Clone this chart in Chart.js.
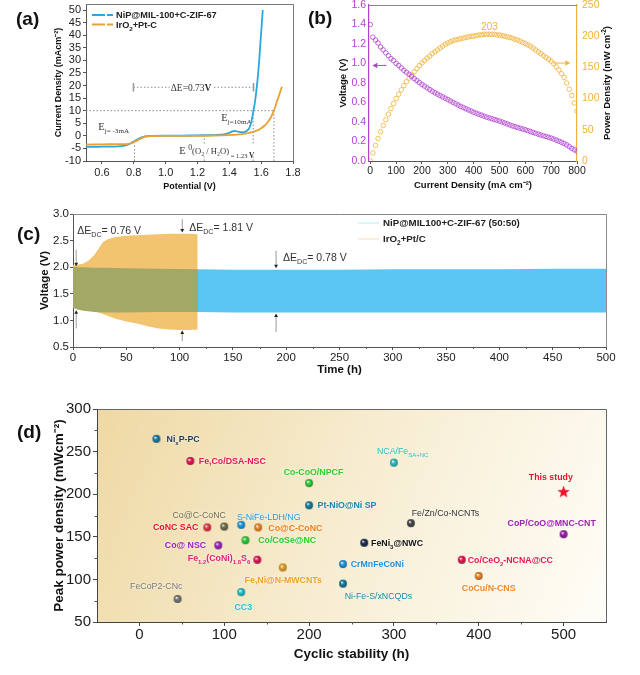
<!DOCTYPE html>
<html lang="en">
<head>
<meta charset="UTF-8">
<title>Catalyst performance panels</title>
<script src="https://cdn.jsdelivr.net/npm/chart.js@4"></script>
<style>
  body { margin: 0; background: #fff; font-family: "Liberation Sans", Arial, sans-serif; }
  #page { position: relative; width: 640px; height: 675px; overflow: hidden; background: #fff; }
  .box { position: absolute; }
  .tag { position: absolute; font-weight: bold; font-size: 19px; color: #111; }
</style>
</head>
<body>
<div id="page">
  <div class="box" style="left:0;top:0;width:300px;height:200px"><canvas id="chartA"></canvas></div>
  <div class="box" style="left:305px;top:0;width:335px;height:200px"><canvas id="chartB"></canvas></div>
  <div class="box" style="left:0;top:200px;width:640px;height:180px"><canvas id="chartC"></canvas></div>
  <div class="box" style="left:0;top:380px;width:640px;height:295px"><canvas id="chartD"></canvas></div>
  <div class="tag" style="left:16px;top:8px">(a)</div>
  <div class="tag" style="left:308px;top:7px">(b)</div>
  <div class="tag" style="left:17px;top:223px">(c)</div>
  <div class="tag" style="left:17px;top:421px">(d)</div>
</div>
<script>
// ---------- (a) polarization curves ----------
const potNi = [0.50, 0.55, 0.60, 0.65, 0.70, 0.74, 0.77, 0.79, 0.81, 0.83, 0.85, 0.87, 0.90, 1.00, 1.10, 1.20, 1.30, 1.35, 1.38, 1.40, 1.42, 1.44, 1.46, 1.48, 1.50, 1.52, 1.53, 1.54, 1.55, 1.56, 1.57, 1.58, 1.59, 1.60, 1.61];
const curNi = [-4.4, -4.4, -4.3, -4.3, -4.2, -3.9, -3.3, -2.6, -1.9, -1.2, -0.6, -0.2, 0.0, 0.1, 0.1, 0.2, 0.3, 0.5, 0.8, 1.2, 1.8, 1.9, 1.6, 1.4, 1.6, 2.6, 3.8, 6.0, 9.5, 13, 18, 24, 32, 41, 50];
const potIr = [0.50, 0.60, 0.70, 0.75, 0.78, 0.80, 0.82, 0.84, 0.86, 0.88, 0.90, 1.00, 1.10, 1.20, 1.30, 1.40, 1.45, 1.50, 1.55, 1.58, 1.60, 1.62, 1.64, 1.66, 1.68, 1.70, 1.72, 1.73];
const curIr = [-3.5, -3.4, -3.3, -3.3, -3.0, -2.5, -1.9, -1.2, -0.6, -0.3, -0.1, 0.0, 0.0, 0.0, 0.1, 0.3, 0.5, 0.9, 1.6, 2.3, 3.0, 4.0, 5.3, 7.2, 10, 13.8, 17.5, 19.5];
const potTicks = [0.6, 0.8, 1.0, 1.2, 1.4, 1.6, 1.8];
const curTicks = [-10, -5, 0, 5, 10, 15, 20, 25, 30, 35, 40, 45, 50];

// ---------- (b) discharge polarization / power density ----------
const jB = [0, 10, 20, 30, 40, 50, 60, 70, 80, 90, 100, 110, 120, 130, 140, 150, 160, 170, 180, 190, 200, 210, 220, 230, 240, 250, 260, 270, 280, 290, 300, 310, 320, 330, 340, 350, 360, 370, 380, 390, 400, 410, 420, 430, 440, 450, 460, 470, 480, 490, 500, 510, 520, 530, 540, 550, 560, 570, 580, 590, 600, 610, 620, 630, 640, 650, 660, 670, 680, 690, 700, 710, 720, 730, 740, 750, 760, 770, 780, 790, 800];
const voltB = [1.40, 1.27, 1.24, 1.21, 1.17, 1.14, 1.11, 1.08, 1.05, 1.03, 1.00, 0.98, 0.955, 0.93, 0.91, 0.89, 0.867, 0.845, 0.825, 0.805, 0.785, 0.768, 0.75, 0.733, 0.716, 0.70, 0.686, 0.672, 0.658, 0.644, 0.63, 0.616, 0.602, 0.588, 0.574, 0.56, 0.548, 0.536, 0.524, 0.512, 0.50, 0.49, 0.48, 0.47, 0.46, 0.45, 0.442, 0.434, 0.426, 0.418, 0.41, 0.40, 0.39, 0.38, 0.37, 0.36, 0.352, 0.344, 0.336, 0.328, 0.32, 0.311, 0.302, 0.293, 0.284, 0.275, 0.267, 0.259, 0.251, 0.243, 0.235, 0.225, 0.214, 0.203, 0.192, 0.18, 0.165, 0.148, 0.13, 0.115, 0.10];
const powerB = [0, 13, 25, 36, 47, 57, 66, 75, 84, 92, 100, 107, 114, 121, 127, 133, 138, 143, 148, 153, 157, 161, 165, 168, 172, 175, 178, 181, 184, 187, 189, 191, 193, 194, 195, 196, 197, 198, 199, 200, 200, 201, 202, 202, 203, 203, 203, 203, 203, 202, 202, 201, 200, 199, 198, 197, 195, 194, 192, 190, 188, 186, 184, 181, 178, 175, 172, 169, 166, 163, 160, 156, 151, 146, 140, 134, 125, 115, 105, 93, 80];
const jTicksB = [0, 100, 200, 300, 400, 500, 600, 700, 800];
const peakPower = 203;

// ---------- (c) cycling ----------
const tOrange = [0, 5, 10, 15, 20, 25, 28, 32, 36, 40, 50, 60, 70, 80, 90, 100, 110, 117];
const hiOrange = [2.04, 2.05, 2.07, 2.13, 2.23, 2.38, 2.47, 2.52, 2.55, 2.57, 2.59, 2.60, 2.61, 2.62, 2.63, 2.63, 2.63, 2.62];
const loOrange = [1.26, 1.23, 1.21, 1.19, 1.17, 1.14, 1.12, 1.09, 1.06, 1.03, 0.98, 0.94, 0.89, 0.85, 0.83, 0.82, 0.82, 0.83];
const tBlue = [0, 5, 10, 20, 30, 50, 80, 117, 150, 200, 250, 300, 350, 400, 450, 500];
const hiBlue = [2.01, 2.00, 2.00, 1.99, 1.99, 1.98, 1.97, 1.96, 1.95, 1.95, 1.95, 1.96, 1.96, 1.96, 1.97, 1.97];
const loBlue = [1.24, 1.20, 1.18, 1.16, 1.15, 1.15, 1.16, 1.16, 1.15, 1.15, 1.15, 1.15, 1.15, 1.15, 1.15, 1.15];
const gapMarks = [[3, 2.33, 2.02], [3, 0.85, 1.19], [102.5, 2.9, 2.65], [102.5, 0.61, 0.81], [190.5, 2.31, 1.98], [190.5, 0.78, 1.13]];
const gapTexts = [[4, 2.70, '0.76'], [109, 2.75, '1.81'], [197, 2.19, '0.78']];

// ---------- (d) comparison ----------
const namesD = [
  [['Ni', 0, 1], ['x', -1, 1], ['P-PC', 0, 1]],
  [['Fe,Co/DSA-NSC', 0, 1]],
  [['Co-CoO/NPCF', 0, 1]],
  [['Pt-NiO@Ni SP', 0, 1]],
  [['NCA/Fe', 0, 0], ['SA+NC', -1, 0]],
  [['Fe/Zn/Co-NCNTs', 0, 0]],
  [['CoP/CoO@MNC-CNT', 0, 1]],
  [['FeNi', 0, 1], ['3', -1, 1], ['@NWC', 0, 1]],
  [['CoNC SAC', 0, 1]],
  [['Co@C-CoNC', 0, 0]],
  [['S-NiFe-LDH/NG', 0, 0]],
  [['Co@C-CoNC', 0, 1]],
  [['Co/CoSe@NC', 0, 1]],
  [['Co@ NSC', 0, 1]],
  [['Fe', 0, 1], ['1.2', -1, 1], ['(CoNi)', 0, 1], ['1.8', -1, 1], ['S', 0, 1], ['6', -1, 1]],
  [['Fe,Ni@N-MWCNTs', 0, 1]],
  [['CrMnFeCoNi', 0, 1]],
  [['Ni-Fe-S/xNCQDs', 0, 0]],
  [['Co/CeO', 0, 1], ['2', -1, 1], ['-NCNA@CC', 0, 1]],
  [['CoCu/N-CNS', 0, 1]],
  [['FeCoP2-CNc', 0, 0]],
  [['CC3', 0, 1]]
];
const stabD = [20, 60, 200, 200, 300, 320, 500, 265, 80, 100, 120, 140, 125, 93, 139, 169, 240, 240, 380, 400, 45, 120];
const powD = [265, 239, 213, 187, 237, 166, 153, 143, 161, 162, 164, 161, 146, 140, 123, 114, 118, 95, 123, 104, 77, 85];
const nameAtX = [32, 70, 170, 210, 280, 321, 434, 273, 16, 39, 115, 152, 140, 30, 57, 124, 249, 242, 387, 380, -11, 112];
const nameAtY = [265, 239, 226, 187, 251, 178, 166, 143, 162, 176, 174, 161, 146, 140, 125, 99, 118, 81, 123, 90, 92, 68];
const dotColors = ['#1f7fa8', '#ea1a5c', '#33d13f', '#1c80a4', '#2fc3c6', '#4a4a4a', '#9a22ad', '#1e3050', '#e8394d', '#72724c', '#1f9de9', '#f08a2c', '#2bd23a', '#a324c9', '#e8185e', '#e9a52e', '#1f9be8', '#1a7fa1', '#e81a4f', '#f08a2c', '#7a7a7a', '#24c6d0'];
const nameColors = ['#1e3a5c', '#e8175a', '#2ccf2c', '#1a84a8', '#2bbec2', '#333333', '#9b22b3', '#111111', '#e8122c', '#6e6e4c', '#1e9be8', '#f07f1a', '#22d22a', '#9e1fc8', '#e0207a', '#eba52a', '#1e90e0', '#1b8aa0', '#e8174e', '#f08a2a', '#7a7a7a', '#22c4d0'];
const studyD = { x: 500, y: 203 };
const stabTicks = [0, 100, 200, 300, 400, 500];
const powTicks = [50, 100, 150, 200, 250, 300];

// ---------- helpers ----------
const FAM = '"Liberation Sans", Arial, Helvetica, sans-serif';
const SERIF = '"Liberation Serif", "Times New Roman", serif';
Chart.defaults.font.family = FAM;
Chart.defaults.color = '#1a1a1a';
Chart.defaults.animation = false;
Chart.defaults.plugins.legend.display = false;
Chart.defaults.plugins.tooltip.enabled = false;

// parts: [text, position (0 / -1 sub / 1 sup), bold, size factor]
function drawRich(ctx, x, y, parts, o) {
  const size = o.size || 10, fam = o.family || FAM;
  const seg = parts.map(p => {
    const t = p[0], pos = p[1] || 0, bold = p[2] !== undefined ? p[2] : o.bold;
    const s = size * (p[3] || (pos ? 0.68 : 1));
    const font = (bold ? 'bold ' : '') + s + 'px ' + fam;
    ctx.font = font;
    return { t, pos, font, w: ctx.measureText(t).width };
  });
  const total = seg.reduce((a, b) => a + b.w, 0);
  let cx = o.align === 'center' ? x - total / 2 : (o.align === 'right' ? x - total : x);
  ctx.save();
  if (o.bg) {
    ctx.fillStyle = o.bg;
    ctx.fillRect(cx - 1, y - size * 0.55, total + 2, size * 1.1);
  }
  if (o.halo) { ctx.shadowColor = 'rgba(255,255,255,0.95)'; ctx.shadowBlur = 3; }
  ctx.fillStyle = o.color || '#222';
  ctx.textBaseline = 'alphabetic';
  for (const s of seg) {
    ctx.font = s.font;
    const dy = s.pos < 0 ? size * 0.3 : (s.pos > 0 ? -size * 0.42 : 0);
    ctx.fillText(s.t, cx, y + size * 0.36 + dy);
    cx += s.w;
  }
  ctx.restore();
  return total;
}

function arrowLine(ctx, x1, y1, x2, y2, color, headColor, head) {
  const a = Math.atan2(y2 - y1, x2 - x1);
  ctx.save();
  ctx.strokeStyle = color; ctx.lineWidth = 1; ctx.setLineDash([]);
  ctx.beginPath(); ctx.moveTo(x1, y1); ctx.lineTo(x2 - Math.cos(a) * head, y2 - Math.sin(a) * head); ctx.stroke();
  ctx.fillStyle = headColor;
  ctx.beginPath();
  ctx.moveTo(x2, y2);
  ctx.lineTo(x2 - Math.cos(a) * head - Math.sin(a) * head * 0.55, y2 - Math.sin(a) * head + Math.cos(a) * head * 0.55);
  ctx.lineTo(x2 - Math.cos(a) * head + Math.sin(a) * head * 0.55, y2 - Math.sin(a) * head - Math.cos(a) * head * 0.55);
  ctx.closePath(); ctx.fill();
  ctx.restore();
}

function frame(color) {
  return {
    id: 'frame',
    afterDraw(chart) {
      const { ctx, chartArea: a } = chart;
      ctx.save();
      ctx.strokeStyle = color; ctx.lineWidth = 1;
      ctx.beginPath();
      ctx.moveTo(a.left, a.top + 0.5); ctx.lineTo(a.right + 0.5, a.top + 0.5); ctx.lineTo(a.right + 0.5, a.bottom);
      ctx.stroke();
      ctx.restore();
    }
  };
}

function minorTicks(axisId, values, len) {
  return {
    id: 'minor_' + axisId,
    afterDraw(chart) {
      const { ctx, chartArea: a } = chart, s = chart.scales[axisId];
      ctx.save(); ctx.strokeStyle = '#555'; ctx.lineWidth = 1;
      ctx.beginPath();
      values.forEach(v => {
        const p = Math.round(s.getPixelForValue(v)) + 0.5;
        if (s.isHorizontal()) { ctx.moveTo(p, a.bottom); ctx.lineTo(p, a.bottom + len); }
        else { ctx.moveTo(a.left, p); ctx.lineTo(a.left - len, p); }
      });
      ctx.stroke(); ctx.restore();
    }
  };
}

const fixTicks = vals => s => { s.ticks = vals.map(v => ({ value: v })); };
const fixW = w => s => { s.width = w; s.paddingTop = s.paddingBottom = 0; };
const fixH = h => s => { s.height = h; s.paddingLeft = s.paddingRight = 0; };
const pts = (xs, ys) => xs.map((v, i) => ({ x: v, y: ys[i] }));

// ---------- chart (a) ----------
const BLUE_A = '#2aa7e0', ORANGE_A = '#e9a232';
const annotA = {
  id: 'annotA',
  beforeDatasetsDraw(chart) {
    const { ctx, scales: { x, y } } = chart;
    const X = v => x.getPixelForValue(v), Y = v => y.getPixelForValue(v);
    ctx.save();
    ctx.strokeStyle = '#8c8c8c'; ctx.lineWidth = 1; ctx.setLineDash([1.5, 2]);
    const line = (x1, y1, x2, y2) => { ctx.beginPath(); ctx.moveTo(X(x1), Y(y1)); ctx.lineTo(X(x2), Y(y2)); ctx.stroke(); };
    line(0.5, 10, 1.68, 10);
    line(0.805, -10, 0.805, -3);
    line(1.243, -10, 1.243, 0);
    line(1.55, -10, 1.55, 10);
    line(1.68, -10, 1.68, 10);
    line(0.798, 19.3, 1.552, 19.3);
    ctx.setLineDash([]); ctx.lineWidth = 1.6; ctx.strokeStyle = '#9a9a9a';
    line(0.798, 17.6, 0.798, 21);
    line(1.552, 17.6, 1.552, 21);
    ctx.restore();
    drawRich(ctx, X(1.16), Y(19.3), [['ΔE=0.73', 0, 0], ['V', 0, 1]], { size: 9.5, family: SERIF, color: '#333', align: 'center', bg: '#fff' });
    drawRich(ctx, X(0.577), Y(3.7), [['E', 0], ['j= -3mA', -1]], { size: 10.5, family: SERIF, color: '#333' });
    drawRich(ctx, X(1.35), Y(7.4), [['E', 0], ['j=10mA', -1]], { size: 10.5, family: SERIF, color: '#333' });
    drawRich(ctx, X(1.085), Y(-5.9), [['E ', 0], ['0', 1, 0, 0.75], ['(O₂ / H₂O)', 0, 0, 0.82], [' = 1.23 ', -1, 0, 0.62], ['V', -1, 1, 0.7]], { size: 10.5, family: SERIF, color: '#333', bg: '#fff' });
  },
  afterDraw(chart) {
    const { ctx, chartArea: a } = chart;
    [[BLUE_A, [['NiP@MIL-100+C-ZIF-67', 0]]], [ORANGE_A, [['IrO', 0], ['2', -1], ['+Pt-C', 0]]]].forEach((e, i) => {
      const yy = a.top + 11 + i * 9.5;
      ctx.save(); ctx.strokeStyle = e[0]; ctx.lineWidth = 2; ctx.setLineDash([13, 2]);
      ctx.beginPath(); ctx.moveTo(a.left + 6, yy); ctx.lineTo(a.left + 27, yy); ctx.stroke(); ctx.restore();
      drawRich(ctx, a.left + 30, yy, e[1], { size: 9.2, bold: true, color: '#222' });
    });
  }
};

new Chart(document.getElementById('chartA'), {
  type: 'line',
  data: {
    datasets: [
      { data: pts(potIr, curIr), borderColor: ORANGE_A, borderWidth: 1.8, pointRadius: 0, tension: 0.3 },
      { data: pts(potNi, curNi), borderColor: BLUE_A, borderWidth: 1.8, pointRadius: 0, tension: 0.3 }
    ]
  },
  options: {
    responsive: true, maintainAspectRatio: false,
    layout: { padding: { left: 0, top: 4, right: 7, bottom: 0 } },
    scales: {
      x: {
        type: 'linear', min: 0.5, max: 1.8,
        afterBuildTicks: fixTicks(potTicks), afterFit: fixH(39),
        grid: { drawOnChartArea: false, tickLength: 3, tickColor: '#555' },
        border: { color: '#555' },
        ticks: { font: { size: 11 }, color: '#222', padding: 2, maxRotation: 0, autoSkip: false, callback: v => v.toFixed(1) },
        title: { display: true, text: 'Potential (V)', font: { size: 9, weight: 'bold' }, color: '#111', padding: { top: 0, bottom: 7.6 } }
      },
      y: {
        type: 'linear', min: -10, max: 52.4,
        afterBuildTicks: fixTicks(curTicks), afterFit: fixW(86),
        grid: { drawOnChartArea: false, tickLength: 3, tickColor: '#555' },
        border: { color: '#555' },
        ticks: { font: { size: 11 }, color: '#222', padding: 2, autoSkip: false },
        title: { display: true, text: 'Current Density (mAcm⁻²)', font: { size: 9, weight: 'bold' }, color: '#111', padding: { top: 53.6, bottom: 0 } }
      }
    }
  },
  plugins: [annotA, frame('#777')]
});

// ---------- chart (b) ----------
const PURPLE_B = '#b342d2', ORANGE_B = '#f1b23c';
const annotB = {
  id: 'annotB',
  afterDraw(chart) {
    const { ctx, chartArea: a, scales: { x, y, y2 } } = chart;
    drawRich(ctx, x.getPixelForValue(461), y2.getPixelForValue(peakPower + 13), [[String(peakPower), 0]], { size: 10, color: ORANGE_B, align: 'center' });
    arrowLine(ctx, x.getPixelForValue(62), y.getPixelForValue(0.98), x.getPixelForValue(8), y.getPixelForValue(0.98), PURPLE_B, PURPLE_B, 5);
    arrowLine(ctx, x.getPixelForValue(709), y2.getPixelForValue(157), x.getPixelForValue(774), y2.getPixelForValue(157), ORANGE_B, ORANGE_B, 5);
    ctx.save();
    ctx.translate(302, (a.top + a.bottom) / 2);
    ctx.rotate(-Math.PI / 2);
    drawRich(ctx, 0, 0, [['Power Density (mW cm', 0], ['-2', 1], [')', 0]], { size: 9.5, bold: true, color: '#111', align: 'center' });
    ctx.restore();
    ctx.save(); ctx.strokeStyle = '#888'; ctx.lineWidth = 1;
    ctx.beginPath(); ctx.moveTo(a.left, a.top + 0.5); ctx.lineTo(a.right, a.top + 0.5); ctx.stroke(); ctx.restore();
  }
};

new Chart(document.getElementById('chartB'), {
  type: 'line',
  data: {
    datasets: [
      { data: pts(jB, voltB), yAxisID: 'y', showLine: false, pointStyle: 'circle', pointRadius: 2.3, pointBorderWidth: 0.8, pointBorderColor: PURPLE_B, pointBackgroundColor: 'rgba(255,255,255,0)' },
      { data: pts(jB, powerB), yAxisID: 'y2', showLine: false, pointStyle: 'circle', pointRadius: 2.3, pointBorderWidth: 0.8, pointBorderColor: ORANGE_B, pointBackgroundColor: 'rgba(255,255,255,0)' }
    ]
  },
  options: {
    responsive: true, maintainAspectRatio: false,
    layout: { padding: { left: 0, top: 5, right: 0, bottom: 0 } },
    scales: {
      x: {
        type: 'linear', min: -5, max: 800,
        afterBuildTicks: fixTicks(jTicksB), afterFit: fixH(39),
        grid: { drawOnChartArea: false, tickLength: 3, tickColor: '#555' },
        border: { color: '#555' },
        ticks: { font: { size: 10.5 }, color: '#222', padding: 1, maxRotation: 0, autoSkip: false },
        title: { display: true, text: 'Current Density (mA cm⁻²)', font: { size: 9.5, weight: 'bold' }, color: '#111', padding: { top: 0, bottom: 9.3 } }
      },
      y: {
        type: 'linear', position: 'left', min: 0, max: 1.6,
        ticks: { stepSize: 0.2, font: { size: 10.5 }, color: PURPLE_B, padding: 3, autoSkip: false, callback: v => v.toFixed(1) },
        afterFit: fixW(64),
        grid: { drawOnChartArea: false, drawTicks: false },
        border: { color: PURPLE_B, width: 1.2 },
        title: { display: true, text: 'Voltage (V)', font: { size: 9.5, weight: 'bold' }, color: '#111', padding: { top: 32.3, bottom: 0 } }
      },
      y2: {
        type: 'linear', position: 'right', min: 0, max: 250,
        ticks: { stepSize: 50, font: { size: 10.5 }, color: ORANGE_B, padding: 5, autoSkip: false },
        afterFit: fixW(63),
        grid: { drawOnChartArea: false, drawTicks: false },
        border: { color: ORANGE_B, width: 1.2 }
      }
    }
  },
  plugins: [annotB]
});

// ---------- chart (c) ----------
const BLUE_C = '#5bc5f3', ORANGE_C = '#f3c470', OLIVE_C = '#a3a866';
const annotC = {
  id: 'annotC',
  afterDatasetsDraw(chart) {
    const { ctx, scales: { x, y } } = chart;
    gapMarks.forEach(m => arrowLine(ctx, x.getPixelForValue(m[0]), y.getPixelForValue(m[1]), x.getPixelForValue(m[0]), y.getPixelForValue(m[2]), '#9a9a9a', '#222', 3.5));
    gapTexts.forEach(t => drawRich(ctx, x.getPixelForValue(t[0]), y.getPixelForValue(t[1]), [['ΔE', 0], ['DC', -1], ['= ' + t[2] + ' V', 0]], { size: 10.5, color: '#333' }));
    [['#c4eef7', [['NiP@MIL100+C-ZIF-67 (50:50)', 0]]], ['#f9e4c4', [['IrO', 0], ['2', -1], ['+Pt/C', 0]]]].forEach((e, i) => {
      const yy = 23 + i * 16;
      ctx.save(); ctx.strokeStyle = e[0]; ctx.lineWidth = 1.2;
      ctx.beginPath(); ctx.moveTo(358, yy); ctx.lineTo(379, yy); ctx.stroke(); ctx.restore();
      drawRich(ctx, 383, yy, e[1], { size: 9.7, bold: true, color: '#222' });
    });
  }
};
const blueFill = ctx => {
  const c = ctx.chart, a = c.chartArea;
  if (!a || !c.scales.x) return BLUE_C;
  const stop = Math.min(1, Math.max(0, (c.scales.x.getPixelForValue(tOrange[tOrange.length - 1]) - a.left) / (a.right - a.left)));
  const g = c.ctx.createLinearGradient(a.left, 0, a.right, 0);
  g.addColorStop(0, OLIVE_C); g.addColorStop(stop, OLIVE_C);
  g.addColorStop(stop, BLUE_C); g.addColorStop(1, BLUE_C);
  return g;
};

new Chart(document.getElementById('chartC'), {
  type: 'line',
  data: {
    datasets: [
      { data: pts(tOrange, hiOrange), borderWidth: 0, pointRadius: 0, fill: false, order: 2 },
      { data: pts(tOrange, loOrange), borderWidth: 0, pointRadius: 0, fill: '-1', backgroundColor: ORANGE_C, order: 2 },
      { data: pts(tBlue, hiBlue), borderWidth: 0, pointRadius: 0, fill: false, order: 1 },
      { data: pts(tBlue, loBlue), borderWidth: 0, pointRadius: 0, fill: '-1', backgroundColor: blueFill, order: 1 }
    ]
  },
  options: {
    responsive: true, maintainAspectRatio: false,
    layout: { padding: { left: 0, top: 14, right: 34, bottom: 0 } },
    plugins: { filler: { propagate: false } },
    scales: {
      x: {
        type: 'linear', min: 0, max: 500,
        ticks: { stepSize: 50, font: { size: 11.5 }, color: '#222', padding: 1, maxRotation: 0, autoSkip: false },
        afterFit: fixH(33),
        grid: { drawOnChartArea: false, tickLength: 3, tickColor: '#555' },
        border: { color: '#555' },
        title: { display: true, text: 'Time (h)', font: { size: 11.5, weight: 'bold' }, color: '#111', padding: { top: 0, bottom: 3.1 } }
      },
      y: {
        type: 'linear', min: 0.5, max: 3.0,
        ticks: { stepSize: 0.5, font: { size: 11.5 }, color: '#222', padding: 1, autoSkip: false, callback: v => v.toFixed(1) },
        afterFit: fixW(73),
        grid: { drawOnChartArea: false, tickLength: 3, tickColor: '#555' },
        border: { color: '#555' },
        title: { display: true, text: 'Voltage (V)', font: { size: 11.5, weight: 'bold' }, color: '#111', padding: { top: 38, bottom: 0 } }
      }
    }
  },
  plugins: [annotC, frame('#888'), minorTicks('x', [25, 75, 125, 175, 225, 275, 325, 375, 425, 475], 2)]
});

// ---------- chart (d) ----------
function sphere(color, r) {
  const d = Math.ceil(r * 2 + 2), c = document.createElement('canvas');
  c.width = c.height = d;
  const g = c.getContext('2d'), m = d / 2;
  let grad = g.createRadialGradient(m - r * 0.35, m - r * 0.4, r * 0.05, m, m, r);
  grad.addColorStop(0, 'rgba(255,255,255,0.95)');
  grad.addColorStop(0.4, color);
  grad.addColorStop(1, color);
  g.fillStyle = grad; g.beginPath(); g.arc(m, m, r, 0, Math.PI * 2); g.fill();
  grad = g.createRadialGradient(m - r * 0.2, m - r * 0.2, r * 0.4, m, m, r);
  grad.addColorStop(0, 'rgba(0,0,0,0)');
  grad.addColorStop(1, 'rgba(0,0,0,0.3)');
  g.fillStyle = grad; g.beginPath(); g.arc(m, m, r, 0, Math.PI * 2); g.fill();
  return c;
}
function star(color, r) {
  const d = Math.ceil(r * 2 + 2), c = document.createElement('canvas');
  c.width = c.height = d;
  const g = c.getContext('2d'), m = d / 2;
  g.fillStyle = color; g.beginPath();
  for (let i = 0; i < 10; i++) {
    const rr = i % 2 ? r * 0.42 : r, a = -Math.PI / 2 + i * Math.PI / 5;
    g.lineTo(m + rr * Math.cos(a), m + rr * Math.sin(a) + 0.5);
  }
  g.closePath(); g.fill();
  return c;
}

const annotD = {
  id: 'annotD',
  beforeDraw(chart) {
    const { ctx, chartArea: a } = chart;
    const g = ctx.createLinearGradient(a.left, a.top, a.right, a.bottom);
    g.addColorStop(0, '#efd9a4');
    g.addColorStop(0.5, '#f7edd2');
    g.addColorStop(1, '#fefdf7');
    ctx.save(); ctx.fillStyle = g; ctx.fillRect(a.left, a.top, a.right - a.left, a.bottom - a.top); ctx.restore();
  },
  afterDatasetsDraw(chart) {
    const { ctx, scales: { x, y } } = chart;
    namesD.forEach((n, i) => drawRich(ctx, x.getPixelForValue(nameAtX[i]), y.getPixelForValue(nameAtY[i]), n, { size: 8.8, color: nameColors[i], halo: true }));
    drawRich(ctx, x.getPixelForValue(459), y.getPixelForValue(220), [['This study', 0, 1]], { size: 8.8, color: '#e8122c', halo: true });
  }
};

new Chart(document.getElementById('chartD'), {
  type: 'scatter',
  data: {
    datasets: [
      { data: pts(stabD, powD), pointStyle: dotColors.map(c => sphere(c, 3.9)), pointRadius: 4 },
      { data: [studyD], pointStyle: star('#ee1530', 6.5), pointRadius: 6 }
    ]
  },
  options: {
    responsive: true, maintainAspectRatio: false,
    layout: { padding: { left: 0, top: 29, right: 34, bottom: 0 } },
    scales: {
      x: {
        type: 'linear', min: -50, max: 550,
        afterBuildTicks: fixTicks(stabTicks), afterFit: fixH(53),
        grid: { drawOnChartArea: false, tickLength: 4, tickColor: '#444' },
        border: { color: '#444' },
        ticks: { font: { size: 15 }, color: '#1a1a1a', padding: 0, maxRotation: 0, autoSkip: false },
        title: { display: true, text: 'Cyclic stability (h)', font: { size: 13.5, weight: 'bold' }, color: '#111', padding: { top: 0, bottom: 12.9 } }
      },
      y: {
        type: 'linear', min: 50, max: 300,
        afterBuildTicks: fixTicks(powTicks), afterFit: fixW(97),
        grid: { drawOnChartArea: false, tickLength: 4, tickColor: '#444' },
        border: { color: '#444' },
        ticks: { font: { size: 15 }, color: '#1a1a1a', padding: 2, autoSkip: false },
        title: { display: true, text: 'Peak power density (mWcm⁻²)', font: { size: 13.5, weight: 'bold' }, color: '#111', padding: { top: 50.9, bottom: 0 } }
      }
    }
  },
  plugins: [annotD, frame('#666'), minorTicks('x', [50, 150, 250, 350, 450], 2.5), minorTicks('y', [75, 125, 175, 225, 275], 2.5)]
});
</script>
</body>
</html>
